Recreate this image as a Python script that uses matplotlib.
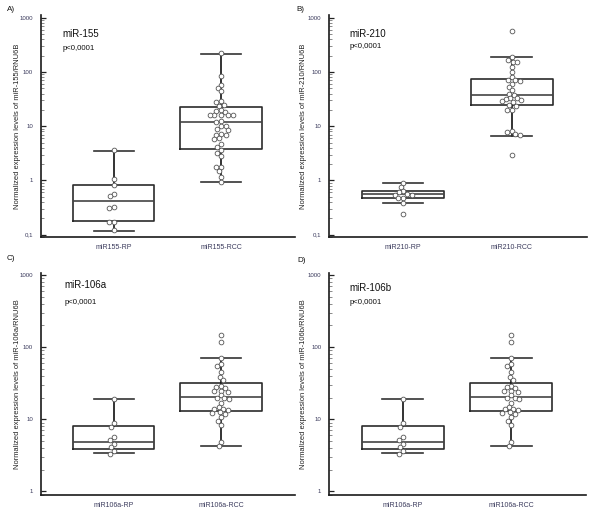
import numpy as np
import matplotlib
matplotlib.use("Agg")
import matplotlib.pyplot as plt
from matplotlib.ticker import FixedLocator, LogLocator, NullFormatter

plt.rcParams['font.family'] = ['Liberation Sans', 'DejaVu Sans']

# ---------------- data ----------------
panel_letters = ["A)", "B)", "C)", "D)"]
titles = ["miR-155", "miR-210", "miR-106a", "miR-106b"]
p_texts = ["p<0,0001", "p<0,0001", "p<0,0001", "p<0,0001"]
ylabels = ["Normalized expression levels of miR-155/RNU6B",
           "Normalized expression levels of miR-210/RNU6B",
           "Normalized expression levels of miR-106a/RNU6B",
           "Normalized expression levels of miR-106b/RNU6B"]
xlabels_A = ["miR155-RP", "miR155-RCC"]
xlabels_B = ["miR210-RP", "miR210-RCC"]
xlabels_C = ["miR106a-RP", "miR106a-RCC"]
xlabels_D = ["miR106a-RP", "miR106a-RCC"]

a_rp = [3.6, 1.05, 0.82, 0.57, 0.52, 0.33, 0.31, 0.175, 0.175, 0.12]
a_rcc = [220, 84, 57, 50, 44, 29, 28, 25, 24, 19.5, 19, 18.5, 16, 16, 16, 16, 16,
         12.5, 12, 10, 10, 8.8, 8.5, 7.2, 7, 7, 6, 5.9, 4.7, 4.2, 3.6, 3.2, 2.8,
         1.8, 1.75, 1.5, 1.17, 0.95]
b_rp = [0.9, 0.75, 0.63, 0.62, 0.56, 0.55, 0.54, 0.48, 0.47, 0.385, 0.245]
b_rcc = [565, 190, 167, 155, 150, 122, 100, 80, 72, 70, 68, 60, 52, 46, 40, 38,
         33, 33, 32, 30, 29, 28, 25, 24, 20, 19.5, 8.2, 7.8, 7.2, 6.9, 3.0]
c_rp = [19, 8.9, 7.9, 5.7, 5.2, 4.6, 4.1, 3.6, 3.3]
c_rcc = [147, 116, 71, 58, 55, 45, 39, 35, 29, 28, 27, 25, 25, 24, 21.6, 20,
         19.5, 19, 16.6, 14.6, 14, 13.8, 13.5, 12.5, 12.2, 12, 10.7, 9.6, 8.2,
         4.9, 4.3]
d_rp = list(c_rp)
d_rcc = list(c_rcc)

# box statistics: (whisker low, Q1, median, Q3, whisker high)
a_rp_box = (0.119, 0.177, 0.41, 0.81, 3.5)
a_rcc_box = (0.94, 3.87, 11.8, 22.9, 211)
b_rp_box = (0.385, 0.48, 0.56, 0.63, 0.9)
b_rcc_box = (6.7, 24.8, 38, 74, 187)
c_rp_box = (3.4, 3.87, 4.9, 8.0, 19)
c_rcc_box = (4.2, 13.2, 20.4, 32.2, 71)
d_rp_box = c_rp_box
d_rcc_box = c_rcc_box

yticks_top = [0.1, 1, 10, 100, 1000]
yticklabels_top = ["0,1", "1", "10", "100", "1000"]
yticks_bot = [1, 10, 100, 1000]
yticklabels_bot = ["1", "10", "100", "1000"]

# ---------------- figure ----------------
W, H = 600, 521
fig = plt.figure(figsize=(W / 100, H / 100), dpi=100)

def rect(x0, x1, ytop, ybot):
    return [x0 / W, (H - ybot) / H, (x1 - x0) / W, (ybot - ytop) / H]

panels = [
    dict(rect=rect(40.7, 295, 15.3, 237.3), ylim=(10 ** -1.048, 10 ** 3.044),
         ticks=yticks_top, tlabels=yticklabels_top, xl=xlabels_A,
         data=(a_rp, a_rcc), box=(a_rp_box, a_rcc_box),
         ylab_x=-0.078, tpos=(0.087, 0.916), ppos=(0.087, 0.852)),
    dict(rect=rect(329, 587, 15.3, 237.3), ylim=(10 ** -1.048, 10 ** 3.044),
         ticks=yticks_top, tlabels=yticklabels_top, xl=xlabels_B,
         data=(b_rp, b_rcc), box=(b_rp_box, b_rcc_box),
         ylab_x=-0.084, tpos=(0.081, 0.916), ppos=(0.081, 0.858)),
    dict(rect=rect(40.7, 295, 273.3, 495.3), ylim=(10 ** -0.055, 10 ** 3.024),
         ticks=yticks_bot, tlabels=yticklabels_bot, xl=xlabels_C,
         data=(c_rp, c_rcc), box=(c_rp_box, c_rcc_box),
         ylab_x=-0.078, tpos=(0.093, 0.947), ppos=(0.093, 0.869)),
    dict(rect=rect(329, 586, 273.3, 495.3), ylim=(10 ** -0.055, 10 ** 3.024),
         ticks=yticks_bot, tlabels=yticklabels_bot, xl=xlabels_D,
         data=(d_rp, d_rcc), box=(d_rp_box, d_rcc_box),
         ylab_x=-0.084, tpos=(0.078, 0.932), ppos=(0.078, 0.868)),
]

label_pos = [(7, 9.5), (296, 9.5), (7, 259), (297, 261)]
tick_col = '#3a3a5c'
edge_col = '#2b2b2b'
D_PX = 4.6  # marker diameter in pixels


def swarm_offsets(ax, x0, vals, d):
    ys = ax.transData.transform(np.column_stack([np.full(len(vals), x0), vals]))[:, 1]
    order = np.argsort(-np.asarray(vals))
    placed = []
    offs = np.zeros(len(vals))
    for i in order:
        y = ys[i]
        cands = [0.0]
        for (px, py) in placed:
            dy = y - py
            if abs(dy) < d:
                dx = np.sqrt(d * d - dy * dy)
                cands += [px + dx, px - dx]
        cands = sorted(cands, key=lambda c: (abs(c), c))
        for c in cands:
            ok = True
            for (px, py) in placed:
                if (c - px) ** 2 + (y - py) ** 2 < d * d - 1e-6:
                    ok = False
                    break
            if ok:
                offs[i] = c
                placed.append((c, y))
                break
    return offs


for k, p in enumerate(panels):
    ax = fig.add_axes(p['rect'])
    ax.set_yscale('log')
    ax.set_xlim(0.32, 2.69)
    ax.set_ylim(*p['ylim'])
    for s in ['top', 'right']:
        ax.spines[s].set_visible(False)
    for s in ['left', 'bottom']:
        ax.spines[s].set_linewidth(1.2)
        ax.spines[s].set_color('#1a1a1a')

    stats = []
    for b, lab in zip(p['box'], p['xl']):
        stats.append(dict(whislo=b[0], q1=b[1], med=b[2], q3=b[3], whishi=b[4],
                          label=lab))
    ax.bxp(stats, positions=[1, 2], widths=0.756, capwidths=0.375,
           showfliers=False, patch_artist=False,
           boxprops=dict(color=edge_col, linewidth=1.2),
           medianprops=dict(color='#444444', linewidth=1.2),
           whiskerprops=dict(color='#111111', linewidth=1.2),
           capprops=dict(color='#333333', linewidth=1.2), zorder=2)

    axw_px = p['rect'][2] * W
    ppu = axw_px / (2.69 - 0.32)  # pixels per data unit
    for pos, vals in zip([1, 2], p['data']):
        offs = swarm_offsets(ax, pos, vals, D_PX)
        ax.plot(pos + offs / ppu, vals, linestyle='none', marker='o',
                markersize=3.4, markerfacecolor='white',
                markeredgecolor='#555555', markeredgewidth=0.6, zorder=4)

    ax.yaxis.set_major_locator(FixedLocator(p['ticks']))
    ax.set_yticklabels(p['tlabels'])
    ax.yaxis.set_minor_locator(LogLocator(base=10, subs=np.arange(2, 10)))
    ax.yaxis.set_minor_formatter(NullFormatter())
    ax.tick_params(axis='y', which='major', direction='in', length=3.5,
                   width=0.9, labelsize=4.4, pad=5.5, colors='#222222',
                   labelcolor=tick_col)
    ax.tick_params(axis='y', which='minor', direction='in', length=2,
                   width=0.6, colors='#777777')
    ax.set_xticks([1, 2])
    ax.set_xticklabels(p['xl'])
    ax.tick_params(axis='x', length=0, labelsize=5, pad=4.5, labelcolor=tick_col)

    ax.set_ylabel(ylabels[k], fontsize=5.4, color='#222222')
    ax.yaxis.set_label_coords(p['ylab_x'], 0.5)

    ax.text(p['tpos'][0], p['tpos'][1], titles[k], transform=ax.transAxes,
            fontsize=7, va='center', ha='left', color='#111111')
    ax.text(p['ppos'][0], p['ppos'][1], p_texts[k], transform=ax.transAxes,
            fontsize=5.6, va='center', ha='left', color='#111111')

for lab, (x, y) in zip(panel_letters, label_pos):
    fig.text(x / W, 1 - y / H, lab, fontsize=5.8, ha='left', va='center',
             color='#111111')

fig.savefig('out.png', dpi=100, facecolor='white')
